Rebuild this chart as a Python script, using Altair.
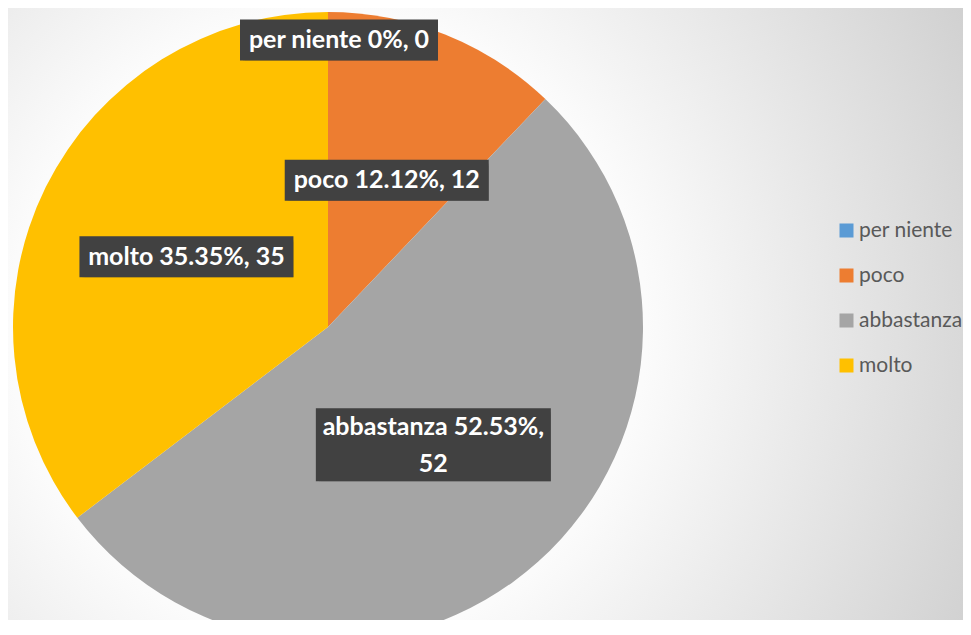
import altair as alt
import pandas as pd

categorie = ["per niente", "poco", "abbastanza", "molto"]
valori = [0, 12, 52, 35]
colori = ["#5B9BD5", "#ED7D31", "#A5A5A5", "#FFC000"]

df = pd.DataFrame({"categoria": categorie, "valore": valori, "ordine": list(range(len(categorie)))})

W, H = 955, 612
CX, CY, R = 320, 319, 315
FONT = "Lato"

bg = alt.Chart(pd.DataFrame({"a": [0]})).mark_rect(
    fill=alt.Gradient(
        gradient="radial", x1=0.335, y1=0.514, r1=0, x2=0.335, y2=0.514, r2=0.76,
        stops=[alt.GradientStop(color="#ffffff", offset=0),
               alt.GradientStop(color="#fbfbfb", offset=0.44),
               alt.GradientStop(color="#cfcfcf", offset=1)]
    )
).encode(x=alt.value(0), x2=alt.value(W), y=alt.value(0), y2=alt.value(H))

base = alt.Chart(df)

pie = base.mark_arc(outerRadius=R).encode(
    theta=alt.Theta("valore:Q", stack=True),
    order=alt.Order("ordine:Q"),
    color=alt.Color(
        "categoria:N",
        scale=alt.Scale(domain=categorie, range=colori),
        legend=alt.Legend(
            title=None, orient="none", legendX=828, legendY=212,
            symbolType="square", symbolSize=196, symbolStrokeWidth=0,
            labelFont=FONT, labelFontSize=21, labelColor="#595959",
            rowPadding=23, padding=0, labelOffset=2,
        ),
    ),
    x=alt.value(CX),
    y=alt.value(CY),
)

lab = base.transform_window(
    cum="sum(valore)", sort=[alt.SortField("ordine")], frame=[None, 0]
).transform_joinaggregate(
    tot="sum(valore)"
).transform_calculate(
    mid="(datum.cum - datum.valore/2)/datum.tot*2*PI",
    rr="datum.valore == 0 ? 287 : 158",
    dx="datum.valore == 0 ? 11 : 0",
    cx=f"{CX} + datum.rr*sin(datum.mid) + datum.dx",
    cy=f"{CY} - datum.rr*cos(datum.mid)",
    pct="format(datum.valore/datum.tot*100, '.2~f')",
    riga1="datum.categoria + ' ' + datum.pct + '%,'",
    lungo="length(datum.riga1 + ' ' + datum.valore) > 17",
    testo="datum.lungo ? datum.riga1 + '\\n' + datum.valore : datum.riga1 + ' ' + datum.valore",
    ty="datum.lungo ? datum.cy - 18 : datum.cy",
    cifre="length(replace(datum.pct, '.', '')) + (datum.lungo ? 0 : length('' + datum.valore))",
    lunghezza="datum.lungo ? length(datum.riga1) : length(datum.riga1 + ' ' + datum.valore)",
    bw="10*datum.lunghezza + 4*datum.cifre + 30 + (datum.lungo ? 9 : 0)",
    bh="datum.lungo ? 73 : 41",
    bx1="datum.cx - datum.bw/2",
    bx2="datum.cx + datum.bw/2",
    by1="datum.cy - datum.bh/2",
    by2="datum.cy + datum.bh/2",
)

shadow = lab.mark_rect(fill="#000000", opacity=0.18, xOffset=3, yOffset=4).encode(
    x=alt.X("bx1:Q", scale=None), x2="bx2:Q",
    y=alt.Y("by1:Q", scale=None), y2="by2:Q",
)
shadow2 = lab.mark_rect(fill="#000000", opacity=0.12, xOffset=5, yOffset=6).encode(
    x=alt.X("bx1:Q", scale=None), x2="bx2:Q",
    y=alt.Y("by1:Q", scale=None), y2="by2:Q",
)
box = lab.mark_rect(fill="#414141").encode(
    x=alt.X("bx1:Q", scale=None), x2="bx2:Q",
    y=alt.Y("by1:Q", scale=None), y2="by2:Q",
)
txt = lab.mark_text(
    font=FONT, fontSize=25, fontWeight="bold", color="#ffffff",
    align="center", baseline="middle", lineBreak="\n", lineHeight=37,
).encode(
    x=alt.X("cx:Q", scale=None),
    y=alt.Y("ty:Q", scale=None),
    text="testo:N",
)

chart = alt.layer(bg, pie, shadow2, shadow, box, txt).properties(
    width=W, height=H, autosize="none", padding=0,
).configure_view(stroke=None).configure(background="#e6e6e6")

chart.save("out.html", embed_options={"renderer": "svg", "actions": False})
